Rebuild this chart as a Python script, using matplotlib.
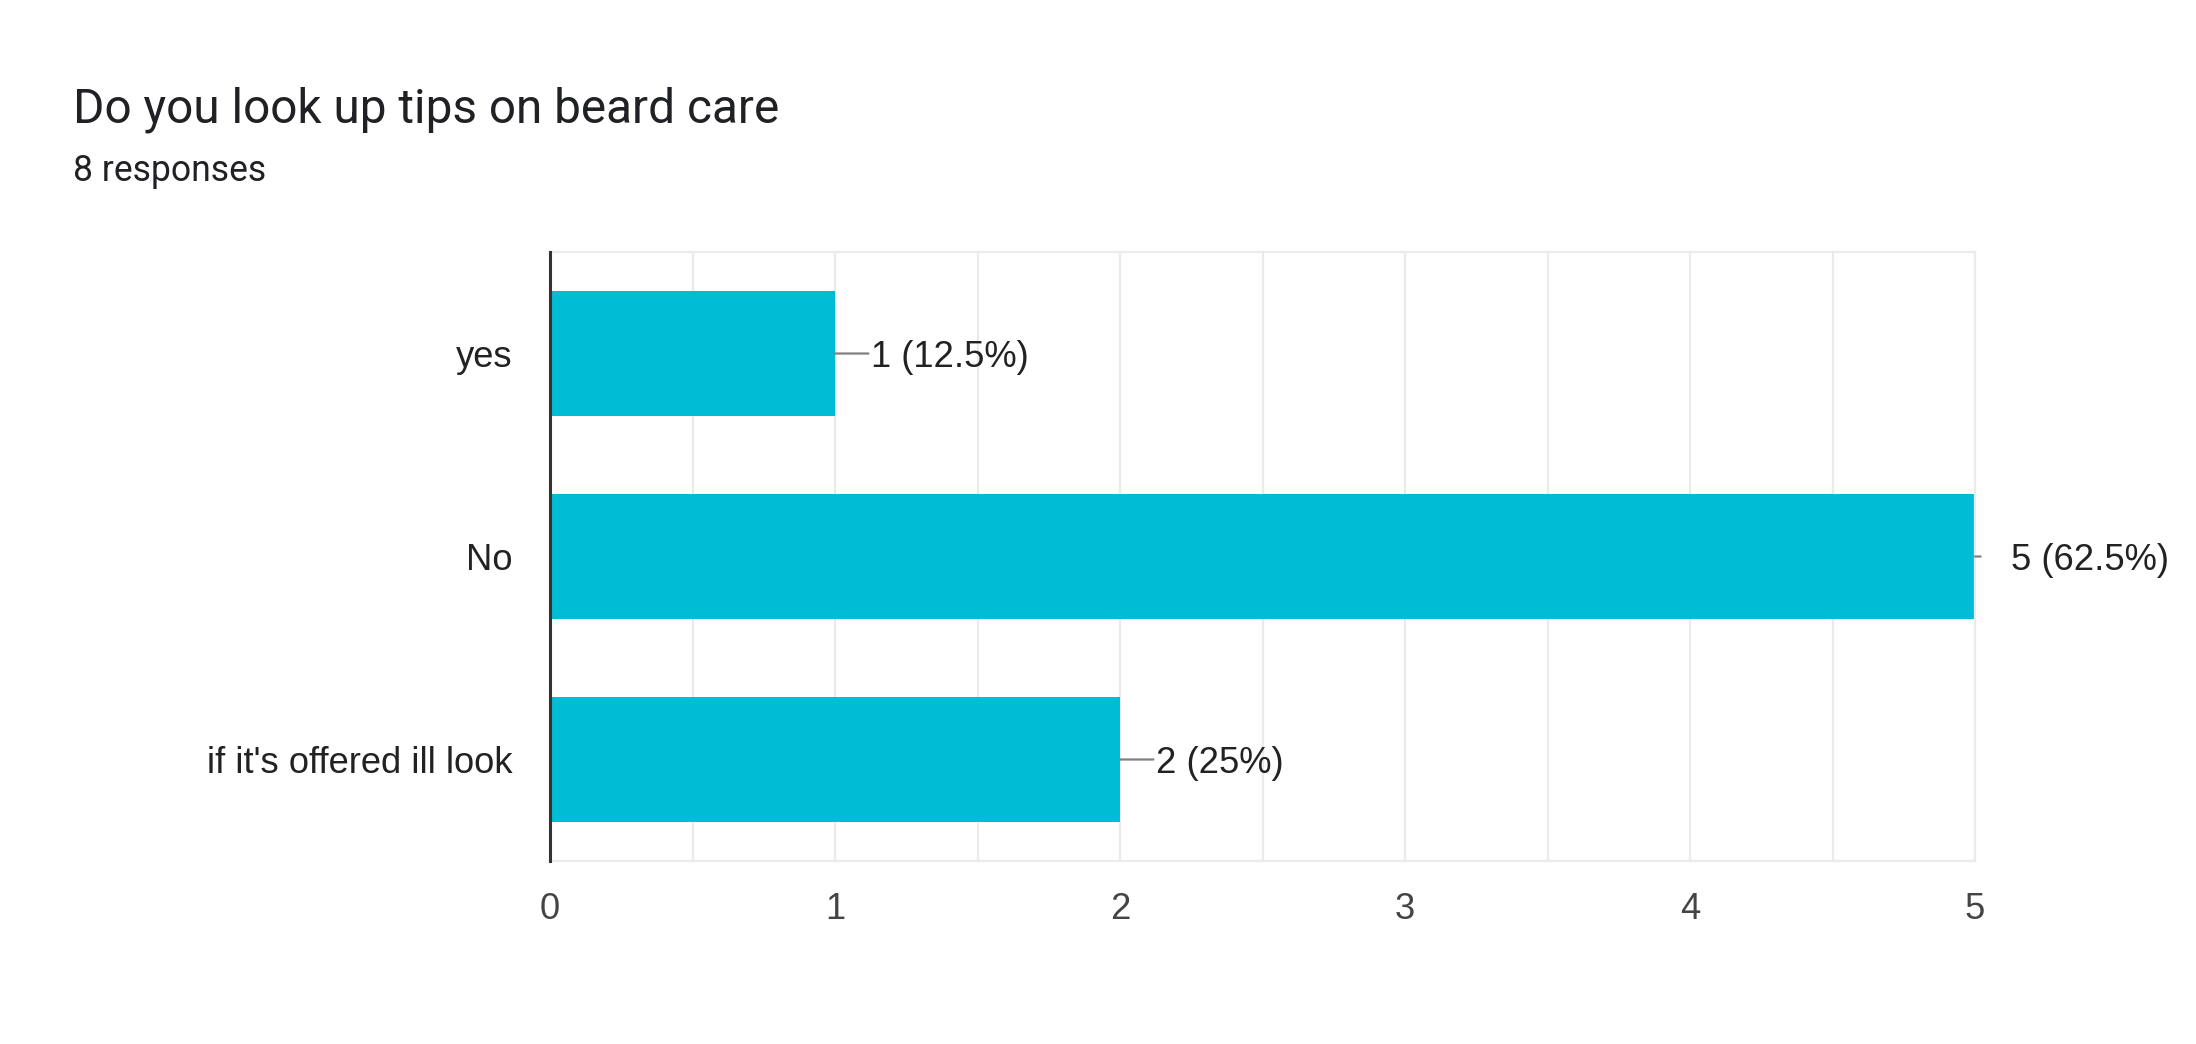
import matplotlib
matplotlib.use("Agg")
import matplotlib.pyplot as plt
import numpy as np

title = "Do you look up tips on beard care"
subtitle = "8 responses"
answers = ["yes", "No", "if it's offered ill look"]
counts = [1, 5, 2]
total = 8
bar_color = "#00BCD4"

plt.rcParams['font.family'] = ['Liberation Sans', 'DejaVu Sans']
label_size = 13.1

fig = plt.figure(figsize=(10.98, 5.22), dpi=200)
ax = fig.add_axes([0.2505, 0.1753, 0.6489, 0.5833])

y_pos = np.arange(len(answers))
ax.barh(y_pos, counts, height=0.62, color=bar_color, zorder=2)
ax.set_ylim(len(answers) - 0.5, -0.5)  # first answer on top
ax.set_xlim(0, max(counts))

ax.set_yticks(y_pos)
ax.set_yticklabels(answers)
ax.set_xticks(np.arange(0, max(counts) + 1))
ax.set_xticks(np.arange(0.5, max(counts), 1), minor=True)
ax.tick_params(axis='y', length=0, pad=13.7, labelsize=label_size, labelcolor='#222222')
ax.tick_params(axis='x', which='both', length=0, pad=11, labelsize=label_size, labelcolor='#444444')

ax.grid(axis='x', which='both', color='#EBEBEB', linewidth=0.8, zorder=0)
for side in ['top', 'bottom', 'right']:
    ax.spines[side].set_color('#EBEBEB')
    ax.spines[side].set_linewidth(0.8)
ax.spines['left'].set_color('#333333')
ax.spines['left'].set_linewidth(1.1)
ax.spines['left'].set_zorder(3)

for y, c in zip(y_pos, counts):
    pct = c / total * 100
    label = f"{c} ({pct:g}%)"
    ax.annotate(label, xy=(c, y), xytext=(13, -1.3), textcoords='offset points',
                va='center', ha='left', fontsize=label_size, color='#222222',
                annotation_clip=False)
    stub = 2 if c == max(counts) else 12
    ax.annotate("", xy=(c, y), xytext=(stub, 0), textcoords='offset points',
                arrowprops=dict(arrowstyle='-', color='#808080', lw=0.8,
                                shrinkA=0, shrinkB=0),
                annotation_clip=False)

fig.text(0.0332, 0.883, title, fontsize=17.2, color='#202124', va='baseline',
         family='Roboto')
fig.text(0.0332, 0.827, subtitle, fontsize=12.8, color='#202124', va='baseline',
         family='Roboto')

fig.savefig("out.png", dpi=200, facecolor='white')
